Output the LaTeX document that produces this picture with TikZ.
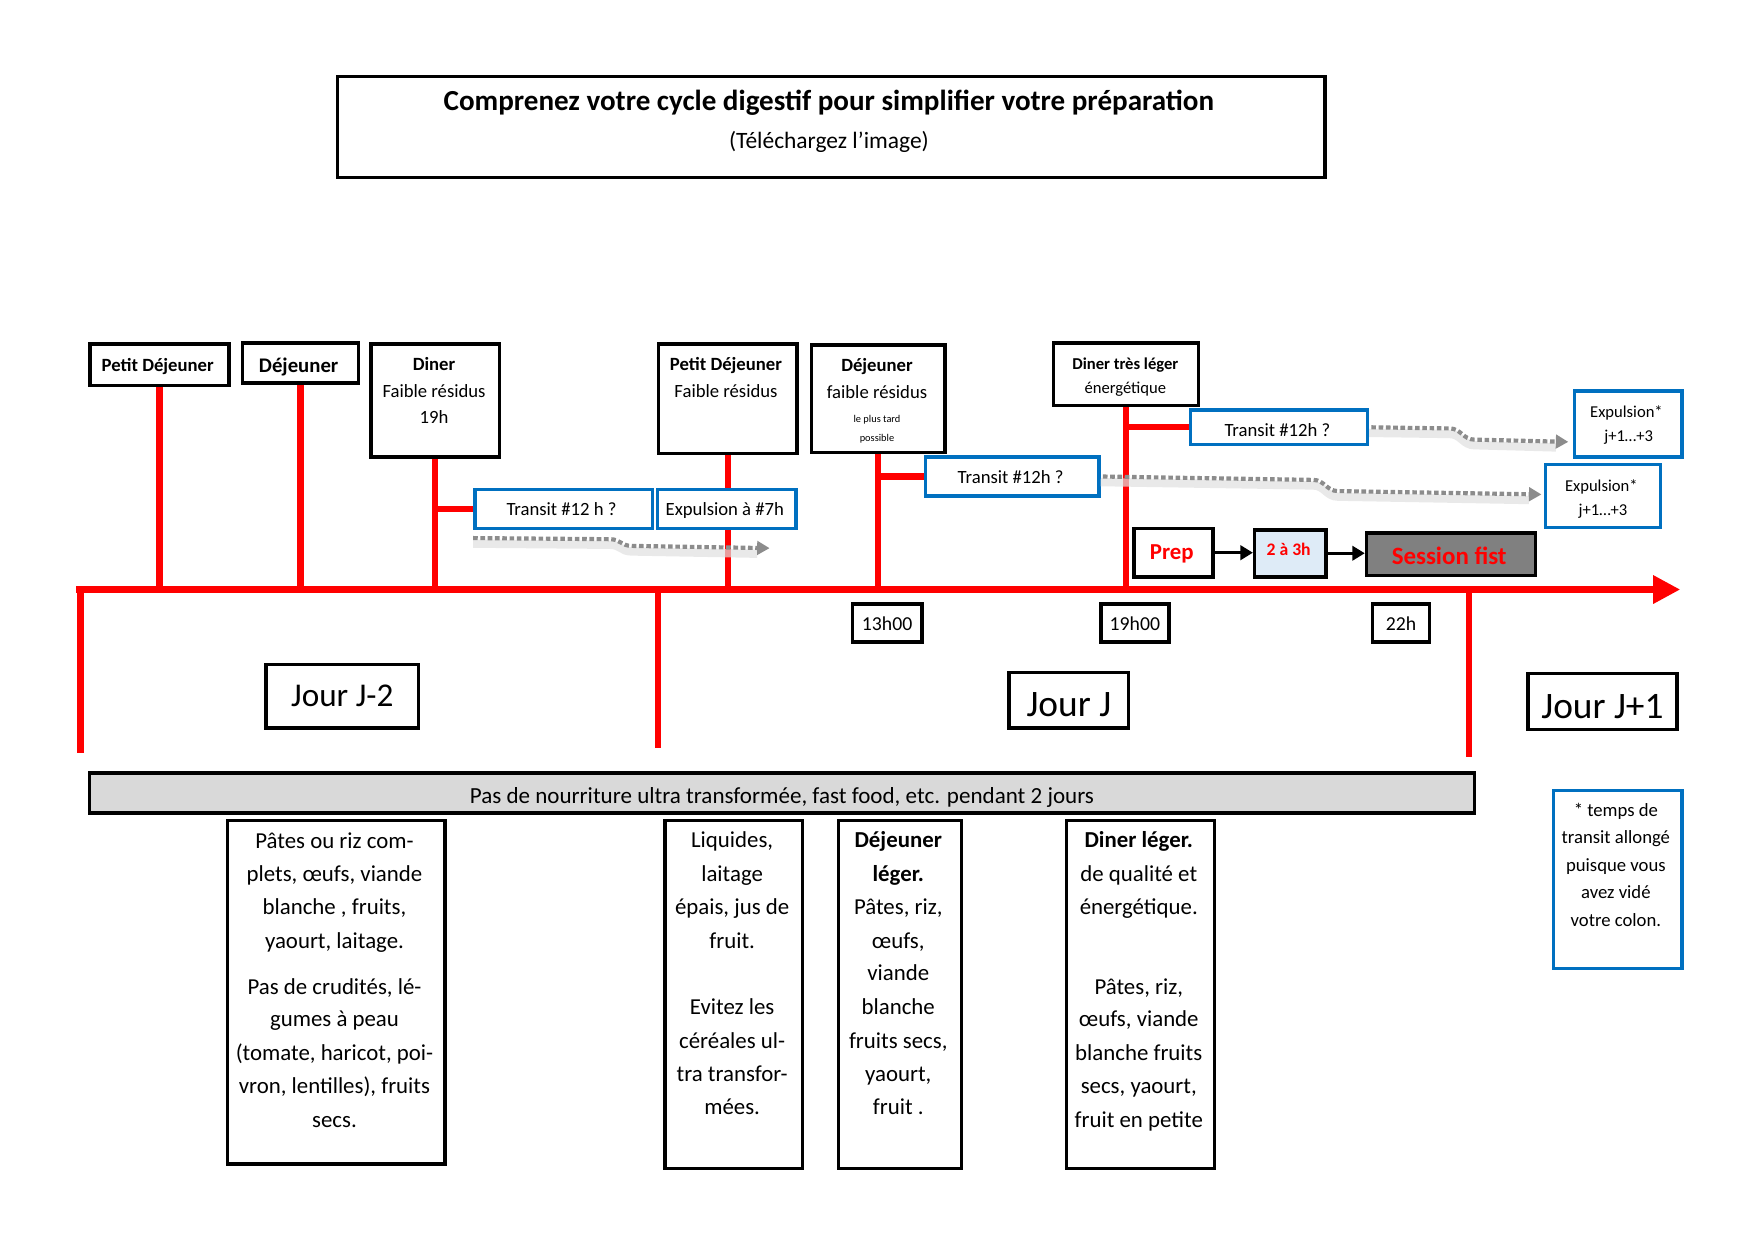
\documentclass[tikz,border=0pt]{standalone}
\usepackage{fontspec}
\setmainfont{Carlito}
\usetikzlibrary{arrows.meta}
\definecolor{bl}{HTML}{0070C0}
\definecolor{bann}{HTML}{D9D9D9}
\definecolor{lightbl}{HTML}{DEEBF7}
\definecolor{sessg}{HTML}{808080}
\def\U{0.018941cm}
\newcommand\rbox[6]{\node[#2, minimum width={(#5-#3)*\U}, minimum height={(#6-#4)*\U}, anchor=north west] (#1) at (#3,#4) {};}
\begin{document}
\begin{tikzpicture}[x=0.018941cm,y=-0.018941cm,
  blk/.style={draw=black,line width=1.7pt,fill=white,inner sep=0pt},
  blu/.style={draw=bl,line width=1.6pt,fill=white,inner sep=0pt},
  rl/.style={draw=red,line width=3pt},
  tx/.style={inner sep=0pt,anchor=mid,yshift=-2.5*\U},
  dots/.style={draw=gray!90,line width=2pt,dash pattern=on 2.2pt off 1.3pt,-{Triangle[length=6pt,width=6.5pt]}},
  shad/.style={draw=black!12,line width=4pt,opacity=0.7},
  blarr/.style={draw=black,line width=1.2pt,-{Triangle[length=6pt,width=7pt]}},
  bt/.style={tx,font=\fontsize{11}{13}\selectfont}
]
\useasboundingbox (0,0) rectangle (1568,1109);

% title
\rbox{title}{blk}{300}{67}{1183}{157}
\node[tx,font=\fontsize{14}{16}\selectfont\bfseries] (titleA) at (741,92) {Comprenez votre cycle digestif pour simplifier votre préparation};
\node[tx,font=\fontsize{11.3}{13}\selectfont] (titleB) at (741,126) {(Téléchargez l’image)};

% axis and dividers
\coordinate (axL) at (68,527);
\coordinate (axR) at (1502,527);
\coordinate (dv1) at (72,673);
\coordinate (dv2) at (588,669);
\coordinate (dv3) at (1313,677);
\draw[rl] (dv1 |- axL) -- (dv1);
\draw[rl] (dv2 |- axL) -- (dv2);
\draw[rl] (dv3 |- axL) -- (dv3);

% meal boxes (top)
\rbox{pd1}{blk}{79}{306}{203}{343}
\rbox{dj1}{blk}{215}{305}{319}{341}
\rbox{din1}{blk}{330}{306}{445}{407}
\rbox{pd2}{blk}{587}{306}{711}{404}
\rbox{dj2}{blk}{724}{307}{843}{403}
\rbox{dtl}{blk}{940}{305}{1070}{361}

% stems
\draw[rl] (pd1.south) -- (pd1.south |- axL);
\draw[rl] (dj1.south) -- (dj1.south |- axL);
\draw[rl] (din1.south) -- (din1.south |- axL);
\draw[rl] (pd2.south) -- (pd2.south |- axL);
\draw[rl] (dj2.south) -- (dj2.south |- axL);
\draw[rl] (dtl.south) -- (dtl.south |- axL);

% timeline arrow
\draw[rl,-{Triangle[length=13pt,width=13pt]}] (axL) -- (axR);

% transit / expulsion boxes
\rbox{tr1}{blu}{423}{436}{582}{471}
\rbox{ex7}{blu}{586}{436}{710}{471}
\rbox{tr2}{blu}{826}{407}{981}{442}
\rbox{tr3}{blu}{1063}{365}{1221}{396}
\rbox{exA}{blu}{1406}{348}{1502}{407}
\rbox{exB}{blu}{1380}{414}{1483}{470}

% branches
\draw[rl] (tr1.west) -- (tr1.west -| din1.south);
\draw[rl] (tr2.west) -- (tr2.west -| dj2.south);
\draw[rl] (tr3.west) -- (tr3.west -| dtl.south);

% dotted arrows
\coordinate (d1s) at (423,481);
\coordinate (d1e) at (688,490);
\coordinate (d2e) at (1378,442);
\coordinate (d3e) at (1402,395);
\draw[shad] ([yshift=-5*\U]d1s) -- ++(122,1) .. controls +(10,0) and +(-10,0) .. ++(20,6) -- ([yshift=-5*\U,xshift=-6pt]d1e);
\draw[dots] (d1s) -- ++(122,1) .. controls +(10,0) and +(-10,0) .. ++(20,6) -- (d1e);
\draw[shad] ([yshift=-5*\U]tr2.east) -- ++(190,3) .. controls +(10,0) and +(-10,0) .. ++(22,10) -- ([yshift=-5*\U,xshift=-6pt]d2e);
\draw[dots] ([xshift=2*\U]tr2.east) -- ++(188,3) .. controls +(10,0) and +(-10,0) .. ++(22,10) -- (d2e);
\draw[shad] ([yshift=-5*\U]tr3.east) -- ++(72,1) .. controls +(10,0) and +(-10,0) .. ++(22,10) -- ([yshift=-5*\U,xshift=-6pt]d3e);
\draw[dots] ([xshift=2*\U]tr3.east) -- ++(70,1) .. controls +(10,0) and +(-10,0) .. ++(22,10) -- (d3e);

% prep row
\rbox{prep}{blk}{1012}{471}{1083}{514}
\node[blk,fill=lightbl,minimum width={64*\U},minimum height={42*\U},anchor=north west] (dur) at (1120,472) {};
\node[blk,fill=sessg,minimum width={151*\U},minimum height={38*\U},anchor=north west] (sess) at (1220,475) {};
\draw[blarr] (prep.east) -- (prep.east -| dur.west);
\draw[blarr] (dur.east) -- (dur.east -| sess.west);

% time labels
\node[blk,minimum width={62*\U},minimum height={34*\U}] (t13) at (793,557) {};
\node[blk,minimum width={61*\U},minimum height={34*\U}] (t19) at (1014.5,557) {};
\node[blk,minimum width={51*\U},minimum height={34*\U}] (t22) at (1252.5,557) {};
\node[tx,font=\fontsize{9.5}{11}\selectfont] (t13t) at (t13) {13h00};
\node[tx,font=\fontsize{9.5}{11}\selectfont] (t19t) at (t19) {19h00};
\node[tx,font=\fontsize{9.5}{11}\selectfont] (t22t) at (t22) {22h};

% day labels
\node[blk,minimum width={136*\U},minimum height={57*\U}] (jm2) at (306,622.5) {};
\node[blk,minimum width={107*\U},minimum height={50*\U}] (jj) at (955.5,626) {};
\node[blk,minimum width={133*\U},minimum height={50*\U}] (jp1) at (1432.5,627) {};
\node[tx,font=\fontsize{16}{18}\selectfont] (jm2t) at (306,625) {Jour J-2};
\node[tx,font=\fontsize{18}{20}\selectfont] (jjt) at (955.5,634) {Jour J};
\node[tx,font=\fontsize{18}{20}\selectfont] (jp1t) at (1432.5,635) {Jour J+1};

% banner
\node[blk,fill=bann,minimum width={1238*\U},minimum height={36*\U}] (ban) at (699,709) {};
\node[tx,font=\fontsize{11.1}{13}\selectfont] (bant) at (699,711) {Pas de nourriture ultra transformée, fast food, etc. pendant 2 jours};

% bottom boxes
\rbox{bA}{blk}{202}{732}{396}{1039}
\rbox{bB}{blk}{593}{732}{716}{1043}
\rbox{bC}{blk}{748}{732}{858}{1043}
\rbox{bD}{blk}{952}{732}{1084}{1043}
\rbox{foot}{blu}{1387}{705}{1502}{864}

% texts in top boxes
\node[tx,font=\fontsize{9}{11}\selectfont\bfseries] (pd1t) at (141,325) {Petit Déjeuner};
\node[tx,font=\fontsize{10}{12}\selectfont\bfseries] (dj1t) at (267,326) {Déjeuner};
\node[tx,font=\fontsize{9}{11}\selectfont\bfseries] (din1a) at (388,324) {Diner};
\node[tx,font=\fontsize{9}{11}\selectfont] (din1b) at (388,348) {Faible résidus};
\node[tx,font=\fontsize{9}{11}\selectfont] (din1c) at (388,372) {19h};
\node[tx,font=\fontsize{9}{11}\selectfont\bfseries] (pd2a) at (649,324) {Petit Déjeuner};
\node[tx,font=\fontsize{9}{11}\selectfont] (pd2b) at (649,348) {Faible résidus};
\node[tx,font=\fontsize{9}{11}\selectfont\bfseries] (dj2a) at (784,325) {Déjeuner};
\node[tx,font=\fontsize{9}{11}\selectfont] (dj2b) at (784,349) {faible résidus};
\node[tx,font=\fontsize{5}{6}\selectfont] (dj2c) at (784,371) {le plus tard};
\node[tx,font=\fontsize{5}{6}\selectfont] (dj2d) at (784,388) {possible};
\node[tx,font=\fontsize{8}{10}\selectfont\bfseries] (dtla) at (1006,323) {Diner très léger};
\node[tx,font=\fontsize{8}{10}\selectfont] (dtlb) at (1006,345) {énergétique};

% texts in blue boxes
\node[tx,font=\fontsize{9}{11}\selectfont] (tr1t) at (502,454) {Transit \#12 h ?};
\node[tx,font=\fontsize{9}{11}\selectfont] (ex7t) at (648,454) {Expulsion à \#7h};
\node[tx,font=\fontsize{9}{11}\selectfont] (tr2t) at (903.5,425) {Transit \#12h ?};
\node[tx,font=\fontsize{9}{11}\selectfont] (tr3t) at (1142,383) {Transit \#12h ?};
\node[tx,font=\fontsize{8}{10}\selectfont] (exAa) at (1454,366) {Expulsion*};
\node[tx,font=\fontsize{8}{10}\selectfont] (exAb) at (1456,388) {j+1…+3};
\node[tx,font=\fontsize{8}{10}\selectfont] (exBa) at (1431.5,432) {Expulsion*};
\node[tx,font=\fontsize{8}{10}\selectfont] (exBb) at (1433,454) {j+1…+3};

% prep row texts
\node[tx,font=\fontsize{11}{13}\selectfont\bfseries,text=red] (prept) at (1047.5,493) {Prep};
\node[tx,font=\fontsize{8.5}{10}\selectfont\bfseries,text=red] (durt) at (1152,490) {2 à 3h};
\node[tx,font=\fontsize{12}{14}\selectfont\bfseries,text=red] (sesst) at (1295.5,498) {Session fist};

% footnote
\foreach \tt/\yy [count=\i] in {* temps de/723, transit allongé/747, puisque vous/772, avez vidé/796, votre colon./821}
  \node[tx,font=\fontsize{9}{11}\selectfont] (fn\i) at (1444.5,\yy) {\tt};

% bottom texts
\foreach \tt/\yy [count=\i] in {Pâtes ou riz com-/752, {plets, œufs, viande}/781, {blanche , fruits,}/811, {yaourt, laitage.}/841, {Pas de crudités, lé-}/882, gumes à peau/911, {(tomate, haricot, poi-}/941, {vron, lentilles), fruits}/971, secs./1001}
  \node[bt] (ba\i) at (299,\yy) {\tt};
\foreach \tt/\yy [count=\i] in {{Liquides,}/751, laitage/781, {épais, jus de}/811, fruit./841, Evitez les/900, céréales ul-/930, tra transfor-/960, mées./989}
  \node[bt] (bb\i) at (654.5,\yy) {\tt};
\node[bt,font=\fontsize{11}{13}\selectfont\bfseries] (bc1) at (803,751) {Déjeuner};
\node[bt,font=\fontsize{11}{13}\selectfont\bfseries] (bc2) at (803,781) {léger.};
\foreach \tt/\yy [count=\i from 3] in {{Pâtes, riz,}/811, {œufs,}/841, viande/870, blanche/900, {fruits secs,}/930, {yaourt,}/960, fruit ./989}
  \node[bt] (bc\i) at (803,\yy) {\tt};
\node[bt,font=\fontsize{11}{13}\selectfont\bfseries] (bd1) at (1018,751) {Diner léger.};
\foreach \tt/\yy [count=\i from 2] in {de qualité et/781, énergétique./811, {Pâtes, riz,}/882, {œufs, viande}/911, blanche fruits/941, {secs, yaourt,}/971, fruit en petite/1001}
  \node[bt] (bd\i) at (1018,\yy) {\tt};
\end{tikzpicture}
\end{document}
